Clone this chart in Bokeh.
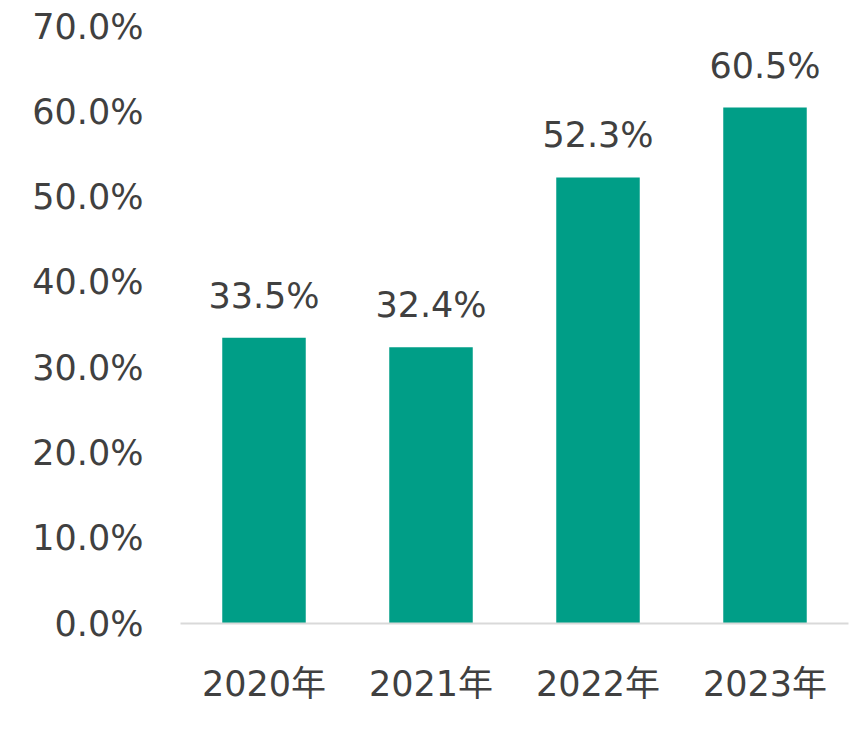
from bokeh.plotting import figure
from bokeh.models import ColumnDataSource, FixedTicker, PrintfTickFormatter, Range1d, LabelSet
from bokeh.core.properties import value
from bokeh.embed import file_html
from bokeh.resources import INLINE

years = ["2020年", "2021年", "2022年", "2023年"]
rates = [33.5, 32.4, 52.3, 60.5]
labels = ["33.5%", "32.4%", "52.3%", "60.5%"]
y_ticks = [0, 10, 20, 30, 40, 50, 60, 70]

FONT = "DejaVu Sans"
TXT = "#404040"
FS = "35px"

src = ColumnDataSource(dict(x=years, y=rates, lab=labels))

p = figure(x_range=years, y_range=Range1d(0, 70), width=860, height=730,
           output_backend="svg", toolbar_location=None,
           min_border_left=180, min_border_right=12, min_border_top=26, min_border_bottom=107)
p.outline_line_color = None
p.grid.visible = False
p.background_fill_color = "white"
p.border_fill_color = "white"

p.vbar(x="x", top="y", width=0.5, source=src, fill_color="#009E87", line_color=None)

labs = LabelSet(x="x", y="y", text="lab", source=src, text_align="center",
                text_baseline="bottom", y_offset=22, text_font_size=value(FS),
                text_color=value(TXT), text_font=value(FONT))
p.add_layout(labs)

p.yaxis.ticker = FixedTicker(ticks=y_ticks)
p.yaxis.formatter = PrintfTickFormatter(format="%.1f%%")
p.yaxis.axis_line_color = None
p.yaxis.major_tick_line_color = None
p.yaxis.minor_tick_line_color = None
p.yaxis.major_label_text_font_size = FS
p.yaxis.major_label_text_color = TXT
p.yaxis.major_label_text_font = FONT
p.yaxis.major_label_standoff = 31

p.xaxis.axis_line_color = "#d9d9d9"
p.xaxis.axis_line_width = 2
p.xaxis.major_tick_line_color = None
p.xaxis.minor_tick_line_color = None
p.xaxis.major_label_text_font_size = FS
p.xaxis.major_label_text_color = TXT
p.xaxis.major_label_text_font = "DejaVu Sans, Noto Sans CJK JP"
p.xaxis.major_label_standoff = 34

open("out.html", "w").write(file_html(p, INLINE))
